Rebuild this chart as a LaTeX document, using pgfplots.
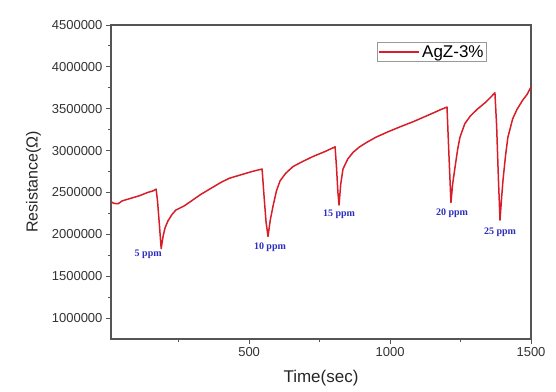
\documentclass[border=0pt]{standalone}
\usepackage{pgfplots}
\pgfplotsset{compat=1.18}
\usepackage{fontspec}
\setmainfont{Liberation Sans}
\newfontfamily\ppmfont{Liberation Serif}
\definecolor{curve}{RGB}{215,30,40}
\definecolor{axgray}{RGB}{85,85,85}
\definecolor{ppmblue}{RGB}{45,45,190}
\begin{document}
\begin{tikzpicture}
\begin{axis}[
  name=ax, at={(0,0)}, anchor=south west,
  width=420pt, height=314pt, scale only axis,
  xmin=10, xmax=1500, ymin=750000, ymax=4500000,
  axis line style={axgray, line width=1.2pt},
  xtick={500,1000,1500}, minor xtick={250,750,1250},
  ytick={1000000,1500000,2000000,2500000,3000000,3500000,4000000,4500000},
  minor ytick={1250000,1750000,2250000,2750000,3250000,3750000,4250000},
  tick pos=left, tick align=outside,
  major tick length=5pt, minor tick length=3pt,
  tick style={axgray, line width=1pt},
  scaled y ticks=false, scaled x ticks=false,
  /pgf/number format/fixed, /pgf/number format/1000 sep={},
  /pgf/number format/assume math mode=true,
  ticklabel style={font=\fontsize{13}{15}\selectfont, text=black!80},
  xlabel={Time(sec)}, ylabel={Resistance(Ω)},
  xlabel style={font=\fontsize{17}{19}\selectfont, text=black!85, yshift=-7pt},
  ylabel style={font=\fontsize{16}{19}\selectfont, text=black!85, yshift=4pt},
  legend style={at={(0.895,0.946)}, anchor=north east, draw=black!40, line width=0.6pt,
    font=\fontsize{17}{19}\selectfont, inner sep=1pt},
  legend image code/.code={\draw[#1] (0pt,0pt) -- (40pt,0pt);},
]
\addplot[curve, line width=1.5pt, line join=round] coordinates {
(10,2390000) (20,2370000) (35,2365000) (50,2400000) (80,2430000) (110,2460000)
(140,2500000) (160,2520000) (170,2540000) (175,2400000) (182,2100000) (188,1830000)
(195,1980000) (202,2080000) (212,2160000) (227,2240000) (240,2290000) (270,2340000)
(300,2410000) (330,2480000) (360,2540000) (400,2620000) (430,2670000) (470,2710000)
(510,2750000) (546,2780000) (552,2500000) (560,2150000) (567,1975000) (575,2170000)
(585,2340000) (597,2520000) (610,2640000) (630,2730000) (656,2810000) (690,2870000)
(727,2930000) (770,2990000) (805,3045000) (810,2800000) (815,2500000) (819,2350000)
(825,2600000) (833,2780000) (850,2900000) (869,2980000) (890,3040000) (918,3100000)
(950,3160000) (993,3225000) (1040,3290000) (1082,3345000) (1140,3430000) (1180,3490000)
(1202,3520000) (1207,3100000) (1212,2700000) (1216,2380000) (1222,2600000) (1230,2790000)
(1240,3020000) (1248,3160000) (1265,3320000) (1284,3410000) (1308,3490000) (1340,3580000)
(1372,3690000) (1378,3300000) (1384,2700000) (1390,2170000) (1396,2450000) (1401,2660000)
(1410,2950000) (1418,3160000) (1435,3380000) (1450,3490000) (1470,3600000) (1486,3670000)
(1500,3760000)
};
\addlegendentry{AgZ-3\%}
\node[font=\ppmfont\bfseries\fontsize{10}{12}\selectfont, text=ppmblue] at (axis cs:142,1762000) {5 ppm};
\node[font=\ppmfont\bfseries\fontsize{10}{12}\selectfont, text=ppmblue] at (axis cs:574,1845000) {10 ppm};
\node[font=\ppmfont\bfseries\fontsize{10}{12}\selectfont, text=ppmblue] at (axis cs:819,2238000) {15 ppm};
\node[font=\ppmfont\bfseries\fontsize{10}{12}\selectfont, text=ppmblue] at (axis cs:1220,2250000) {20 ppm};
\node[font=\ppmfont\bfseries\fontsize{10}{12}\selectfont, text=ppmblue] at (axis cs:1390,2024000) {25 ppm};
\end{axis}
\pgfresetboundingbox
\path (-111pt,-52pt) rectangle (445pt,339pt);
\end{tikzpicture}
\end{document}
